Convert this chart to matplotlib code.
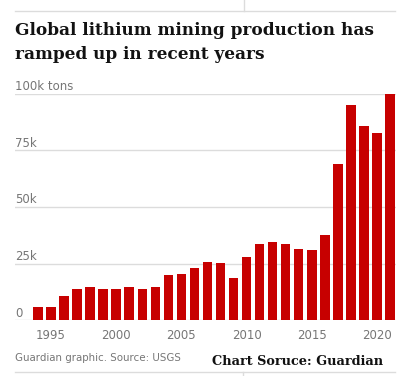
import matplotlib
matplotlib.use("Agg")
import matplotlib.pyplot as plt
from matplotlib.lines import Line2D

# lithium production, thousand tons
years = list(range(1994, 2022))
production = [5.7, 5.9, 10.6, 13.7, 14.7, 13.7, 13.7, 14.7, 13.8, 14.7,
              19.9, 20.3, 23.2, 25.6, 25.1, 18.5, 27.8, 33.8, 34.7, 33.7,
              31.5, 31.2, 37.8, 68.8, 95.0, 85.9, 82.5, 100.0]
yticks = [0, 25, 50, 75, 100]
ytick_labels = ["0", "25k", "50k", "75k", "100k tons"]
xticks = [1995, 2000, 2005, 2010, 2015, 2020]

W, H = 401, 376
fig = plt.figure(figsize=(W / 100, H / 100), dpi=100)
ax = fig.add_axes([15 / W, (H - 320.3) / H, (396 - 15) / W, (320.3 - 93.7) / H])

ax.bar(years, production, width=0.72, color="#c70000", zorder=3)
ax.set_xlim(1992.25, 2021.45)
ax.set_ylim(0, 100)

# gridlines with labels sitting above them
grey = "#767676"
for v, lab in zip(yticks, ytick_labels):
    ax.axhline(v, color="#dcdcdc", lw=1, zorder=1)
    ax.text(1992.25, v + 3.1, lab, color=grey, fontsize=8.5, ha="left", va="center")
ax.set_yticks([])
ax.set_xticks(xticks)
ax.set_xticklabels([str(x) for x in xticks], color=grey, fontsize=8.5)
ax.tick_params(axis="x", length=0, pad=6.5)
for s in ax.spines.values():
    s.set_visible(False)

# title
fig.text(15 / W, 1 - 35 / H, "Global lithium mining production has",
         fontsize=12.2, fontweight="bold", family="DejaVu Serif", color="#121212")
fig.text(15 / W, 1 - 59 / H, "ramped up in recent years",
         fontsize=12.2, fontweight="bold", family="DejaVu Serif", color="#121212")

# top and bottom rules
fig.add_artist(Line2D([15 / W, 395 / W], [1 - 11 / H, 1 - 11 / H], color="#dcdcdc", lw=1))
fig.add_artist(Line2D([244 / W, 244 / W], [1 - 11 / H, 1.0], color="#dcdcdc", lw=1))
fig.add_artist(Line2D([15 / W, 395 / W], [1 - 371.5 / H, 1 - 371.5 / H], color="#dcdcdc", lw=1))
fig.add_artist(Line2D([243 / W, 243 / W], [0, 1 - 371.5 / H], color="#dcdcdc", lw=1))

# footer
fig.text(15 / W, 1 - 361 / H, "Guardian graphic. Source: USGS", color=grey, fontsize=7.4)
fig.text(383 / W, 1 - 365 / H, "Chart Soruce: Guardian", ha="right",
         fontsize=9.3, fontweight="bold", family="DejaVu Serif", color="#111111")

fig.savefig("out.png", dpi=100)
